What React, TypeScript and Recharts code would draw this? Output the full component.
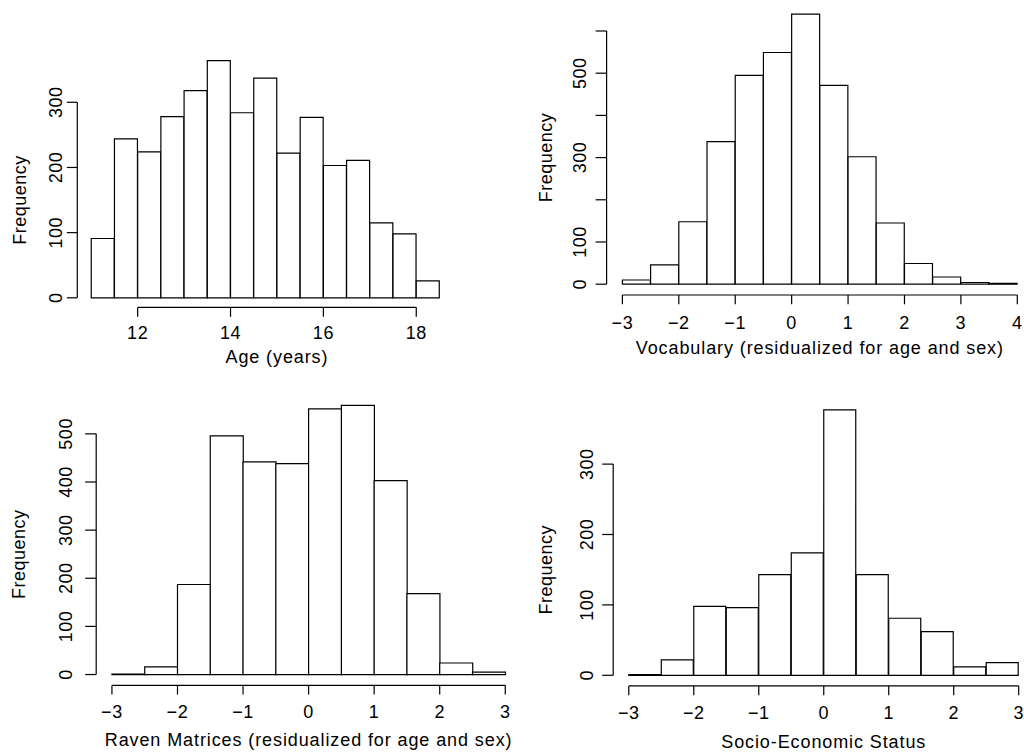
import React from 'react';
import { BarChart, Bar, XAxis, YAxis, ReferenceLine } from 'recharts';

// ---------- data ----------
const binWidth = 0.5;

const ageBinMids = [11.25, 11.75, 12.25, 12.75, 13.25, 13.75, 14.25, 14.75, 15.25, 15.75, 16.25, 16.75, 17.25, 17.75, 18.25];
const ageCounts = [91, 244, 224, 278, 318, 364, 284, 337, 222, 277, 203, 211, 115, 98, 26];
const ageXTicks = [12, 14, 16, 18];
const ageYTicks = [0, 100, 200, 300];
const ageYLabels = [0, 100, 200, 300];

const vocabBinMids = [-2.75, -2.25, -1.75, -1.25, -0.75, -0.25, 0.25, 0.75, 1.25, 1.75, 2.25, 2.75, 3.25, 3.75];
const vocabCounts = [10, 46, 148, 338, 495, 549, 640, 471, 302, 145, 49, 17, 4, 2];
const vocabXTicks = [-3, -2, -1, 0, 1, 2, 3, 4];
const vocabYTicks = [0, 100, 200, 300, 400, 500, 600];
const vocabYLabels = [0, 100, 300, 500];

const ravenBinMids = [-2.75, -2.25, -1.75, -1.25, -0.75, -0.25, 0.25, 0.75, 1.25, 1.75, 2.25, 2.75];
const ravenCounts = [1, 16, 187, 496, 442, 438, 552, 559, 403, 168, 24, 5];
const ravenXTicks = [-3, -2, -1, 0, 1, 2, 3];
const ravenYTicks = [0, 100, 200, 300, 400, 500];
const ravenYLabels = [0, 100, 200, 300, 400, 500];

const sesBinMids = [-2.75, -2.25, -1.75, -1.25, -0.75, -0.25, 0.25, 0.75, 1.25, 1.75, 2.25, 2.75];
const sesCounts = [1, 22, 98, 96, 143, 174, 377, 143, 81, 62, 12, 18];
const sesXTicks = [-3, -2, -1, 0, 1, 2, 3];
const sesYTicks = [0, 100, 200, 300];
const sesYLabels = [0, 100, 200, 300];

const titles = {
  age: 'Age (years)',
  vocab: 'Vocabulary (residualized for age and sex)',
  raven: 'Raven Matrices (residualized for age and sex)',
  ses: 'Socio-Economic Status',
  y: 'Frequency',
};

// ---------- styles ----------
const FONT = '"Liberation Sans", Arial, Helvetica, sans-serif';
const FS = 18;
const LW = 1.2;
const CHART_W = 540;
const PANEL_W = 512;
const PANEL_H = 376;

type Layout = {
  ox: number; oy: number;
  left: number; top: number; right: number; bottom: number;
  xTickLen: number; yTickLen: number;
  xLabelDy: number; xTitleDy: number;
  yLabelDx: number; yTitleDx: number;
};

const fmt = (v: number) => (v < 0 ? '\u2212' + Math.abs(v) : String(v));

function Histogram(props: {
  mids: number[]; counts: number[]; xTicks: number[]; yTicks: number[]; yLabels: number[];
  xTitle: string; layout: Layout;
}) {
  const { mids, counts, xTicks, yTicks, yLabels, xTitle, layout: L } = props;
  const data = mids.map((m, i) => ({ mid: m, count: counts[i] }));
  const lo = mids[0] - binWidth / 2;
  const hi = mids[mids.length - 1] + binWidth / 2;
  const xr = hi - lo;
  const xDomain = [lo - 0.04 * xr, hi + 0.04 * xr];
  const ymax = Math.max(...counts);
  const yDomain = [-0.04 * ymax, 1.04 * ymax];

  const renderXTick = (p: any) => {
    const { x, y, payload } = p;
    return (
      <g>
        <line x1={x} y1={y} x2={x} y2={y + L.xTickLen} stroke="#000" strokeWidth={LW} />
        <text x={x} y={y + L.xLabelDy} textAnchor="middle" fontFamily={FONT} fontSize={FS} letterSpacing={0.6} fill="#000">
          {fmt(payload.value)}
        </text>
      </g>
    );
  };

  const renderYTick = (p: any) => {
    const { x, y, payload } = p;
    const show = yLabels.includes(payload.value);
    const tx = x - L.yLabelDx;
    return (
      <g>
        <line x1={x} y1={y} x2={x - L.yTickLen} y2={y} stroke="#000" strokeWidth={LW} />
        {show && (
          <text x={tx} y={y} transform={`rotate(-90 ${tx} ${y})`} textAnchor="middle" fontFamily={FONT} fontSize={FS} letterSpacing={0.5} fill="#000">
            {fmt(payload.value)}
          </text>
        )}
      </g>
    );
  };

  const xTitleLabel = (p: any) => {
    const vb = p.viewBox || {};
    const cx = vb.x + (vb.width || 0) / 2;
    return (
      <text x={cx} y={vb.y + L.xTitleDy} textAnchor="middle" fontFamily={FONT} fontSize={FS} letterSpacing={0.9} fill="#000">
        {xTitle}
      </text>
    );
  };

  const yTitleLabel = (p: any) => {
    const vb = p.viewBox || {};
    const cy = vb.y + (vb.height || 0) / 2;
    const tx = vb.x - L.yTitleDx;
    return (
      <text x={tx} y={cy} transform={`rotate(-90 ${tx} ${cy})`} textAnchor="middle" fontFamily={FONT} fontSize={FS} letterSpacing={0.5} fill="#000">
        {titles.y}
      </text>
    );
  };

  return (
    <BarChart
      width={CHART_W}
      height={PANEL_H}
      data={data}
      margin={{ top: L.top, right: CHART_W - L.right, bottom: 0, left: 0 }}
      barCategoryGap={0}
      barGap={0}
    >
      <XAxis
        type="number"
        dataKey="mid"
        domain={xDomain}
        allowDataOverflow
        ticks={xTicks}
        interval={0}
        axisLine={false}
        tickLine={false}
        tickSize={0}
        tickMargin={0}
        height={PANEL_H - L.bottom}
        tick={renderXTick}
      />
      <YAxis
        type="number"
        domain={yDomain}
        allowDataOverflow
        ticks={yTicks}
        interval={0}
        axisLine={false}
        tickLine={false}
        tickSize={0}
        tickMargin={0}
        width={L.left}
        tick={renderYTick}
      />
      <Bar dataKey="count" fill="#fff" stroke="#000" strokeWidth={LW} isAnimationActive={false} />
      <ReferenceLine
        segment={[{ x: xTicks[0], y: yDomain[0] }, { x: xTicks[xTicks.length - 1], y: yDomain[0] }]}
        stroke="#000"
        strokeWidth={LW}
        ifOverflow="visible"
        label={xTitleLabel}
      />
      <ReferenceLine
        segment={[{ x: xDomain[0], y: yTicks[0] }, { x: xDomain[0], y: yTicks[yTicks.length - 1] }]}
        stroke="#000"
        strokeWidth={LW}
        ifOverflow="visible"
        label={yTitleLabel}
      />
    </BarChart>
  );
}

const layouts: Record<string, Layout> = {
  age: { ox: 0, oy: 0, left: 77.3, top: 51.1, right: 453.4, bottom: 307.3, xTickLen: 9.5, yTickLen: 10.5, xLabelDy: 32, xTitleDy: 55.7, yLabelDx: 15.6, yTitleDx: 51.7 },
  vocab: { ox: 512, oy: 0, left: 94.6, top: 3.3, right: 521.1, bottom: 295, xTickLen: 9.3, yTickLen: 11, xLabelDy: 33.5, xTitleDy: 59.3, yLabelDx: 20.7, yTitleDx: 54.7 },
  raven: { ox: 0, oy: 376, left: 96.2, top: 18.7, right: 521, bottom: 309.3, xTickLen: 9.3, yTickLen: 11, xLabelDy: 32.7, xTitleDy: 60.6, yLabelDx: 24.5, yTitleDx: 71.3 },
  ses: { ox: 512, oy: 376, left: 101.2, top: 23.3, right: 522.3, bottom: 309.9, xTickLen: 9.3, yTickLen: 11, xLabelDy: 33.3, xTitleDy: 61.7, yLabelDx: 20.6, yTitleDx: 61.3 },
};

function Panel({ L, children }: { L: Layout; children: React.ReactNode }) {
  return (
    <div style={{ position: 'absolute', left: L.ox, top: L.oy, width: PANEL_W, height: PANEL_H, overflow: 'hidden' }}>
      {children}
    </div>
  );
}

export default function App() {
  return (
    <div style={{ position: 'absolute', left: 0, top: 0, width: 1024, height: 752, overflow: 'hidden', background: '#fff' }}>
      <Panel L={layouts.age}>
        <Histogram mids={ageBinMids} counts={ageCounts} xTicks={ageXTicks} yTicks={ageYTicks} yLabels={ageYLabels} xTitle={titles.age} layout={layouts.age} />
      </Panel>
      <Panel L={layouts.vocab}>
        <Histogram mids={vocabBinMids} counts={vocabCounts} xTicks={vocabXTicks} yTicks={vocabYTicks} yLabels={vocabYLabels} xTitle={titles.vocab} layout={layouts.vocab} />
      </Panel>
      <Panel L={layouts.raven}>
        <Histogram mids={ravenBinMids} counts={ravenCounts} xTicks={ravenXTicks} yTicks={ravenYTicks} yLabels={ravenYLabels} xTitle={titles.raven} layout={layouts.raven} />
      </Panel>
      <Panel L={layouts.ses}>
        <Histogram mids={sesBinMids} counts={sesCounts} xTicks={sesXTicks} yTicks={sesYTicks} yLabels={sesYLabels} xTitle={titles.ses} layout={layouts.ses} />
      </Panel>
    </div>
  );
}
